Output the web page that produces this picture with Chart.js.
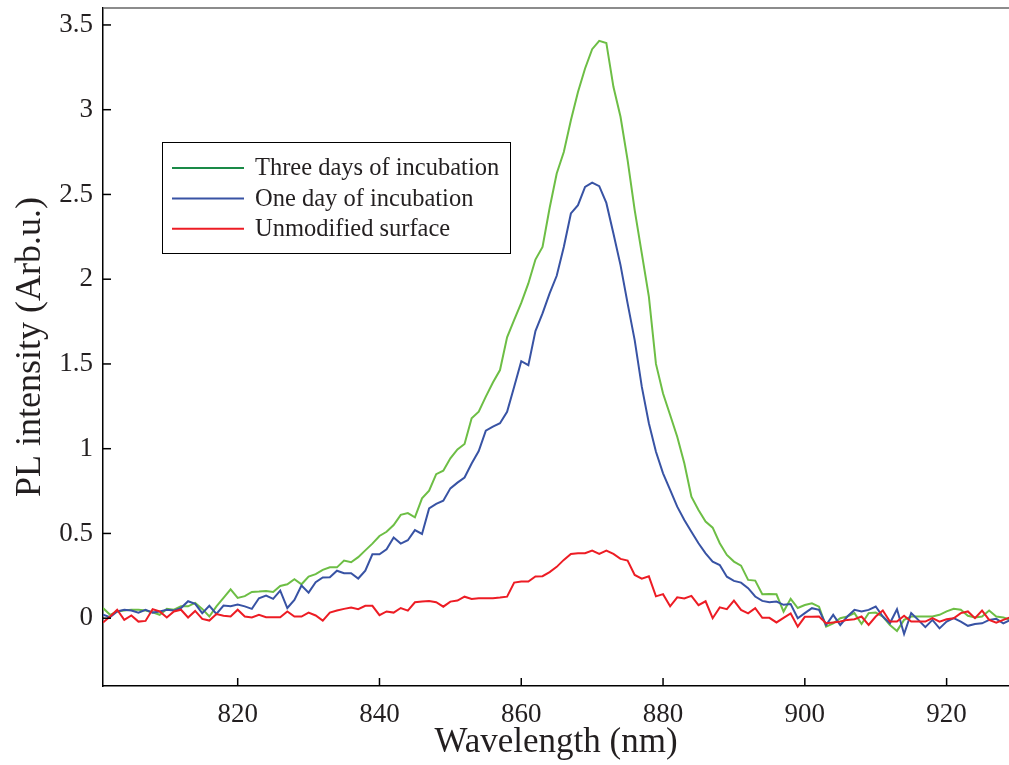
<!DOCTYPE html>
<html><head><meta charset="utf-8">
<script src="https://cdn.jsdelivr.net/npm/chart.js@4.4.0/dist/chart.umd.min.js"></script>
<style>html,body{margin:0;padding:0;background:#fff;}#wrap{width:1009px;height:765px;}</style>
</head><body><div id="wrap"><canvas id="c" width="1009" height="765"></canvas></div>
<script>
const wavelength = [801,802,803,804,805,806,807,808,809,810,811,812,813,814,815,816,817,818,819,820,
821,822,823,824,825,826,827,828,829,830,831,832,833,834,835,836,837,838,839,840,
841,842,843,844,845,846,847,848,849,850,851,852,853,854,855,856,857,858,859,860,
861,862,863,864,865,866,867,868,869,870,871,872,873,874,875,876,877,878,879,880,
881,882,883,884,885,886,887,888,889,890,891,892,893,894,895,896,897,898,899,900,
901,902,903,904,905,906,907,908,909,910,911,912,913,914,915,916,917,918,919,920,
921,922,923,924,925,926,927,928,929];

const threeDays = [0.06,0.02,0.04,0.045,0.05,0.05,0.045,0.035,0.02,0.055,0.05,0.07,0.07,0.09,0.055,0.01,0.07,0.12,0.17,0.12,
0.13,0.155,0.157,0.16,0.155,0.19,0.2,0.23,0.2,0.245,0.26,0.285,0.3,0.3,0.34,0.33,0.36,0.4,0.44,0.485,
0.51,0.55,0.61,0.62,0.595,0.707,0.752,0.85,0.87,0.943,0.996,1.028,1.18,1.218,1.307,1.39,1.464,1.657,1.76,1.86,
1.975,2.116,2.19,2.42,2.624,2.75,2.938,3.105,3.243,3.357,3.406,3.394,3.135,2.958,2.703,2.408,2.152,1.897,1.5,1.326,
1.199,1.071,0.914,0.717,0.638,0.57,0.534,0.442,0.373,0.334,0.31,0.226,0.222,0.141,0.143,0.141,0.039,0.114,0.06,0.078,
0.088,0.068,-0.05,-0.03,0.0,0.01,0.03,-0.034,0.03,0.033,0.01,-0.04,-0.075,-0.01,0.01,0.01,0.01,0.01,0.02,0.04,
0.055,0.05,0.014,0.004,0.01,0.045,0.01,0.004,-0.01];

const oneDay = [0.02,0.006,0.04,0.05,0.045,0.033,0.05,0.033,0.04,0.05,0.045,0.06,0.1,0.085,0.03,0.073,0.025,0.075,0.07,0.08,
0.07,0.055,0.118,0.134,0.114,0.163,0.06,0.108,0.193,0.151,0.212,0.24,0.242,0.28,0.265,0.265,0.234,0.28,0.377,0.377,
0.406,0.476,0.44,0.46,0.52,0.497,0.648,0.674,0.693,0.766,0.8,0.83,0.913,0.986,1.106,1.13,1.15,1.218,1.365,1.516,
1.493,1.694,1.798,1.916,2.02,2.19,2.388,2.437,2.545,2.57,2.549,2.45,2.27,2.083,1.857,1.641,1.366,1.15,0.982,0.855,
0.757,0.658,0.58,0.51,0.442,0.383,0.334,0.314,0.245,0.22,0.21,0.177,0.128,0.102,0.094,0.098,0.079,0.084,0.0,0.03,
0.059,0.049,-0.04,0.02,-0.04,0.01,0.049,0.039,0.049,0.069,0.01,-0.03,0.053,-0.093,0.03,-0.01,-0.053,-0.01,-0.06,-0.02,
0.0,-0.02,-0.045,-0.034,-0.03,-0.01,-0.004,-0.03,-0.01];

const unmodified = [-0.026,0.01,0.05,-0.01,0.016,-0.02,-0.016,0.053,0.04,0.004,0.04,0.05,0.004,0.043,-0.004,-0.014,0.024,0.014,0.01,0.05,
0.01,0.004,0.02,0.006,0.006,0.006,0.04,0.01,0.01,0.033,0.016,-0.014,0.033,0.045,0.055,0.063,0.053,0.073,0.073,0.018,
0.04,0.033,0.06,0.045,0.094,0.098,0.102,0.094,0.068,0.098,0.104,0.127,0.114,0.118,0.118,0.118,0.122,0.127,0.21,0.216,
0.216,0.246,0.248,0.272,0.303,0.344,0.379,0.383,0.383,0.399,0.379,0.399,0.379,0.35,0.34,0.255,0.233,0.247,0.129,0.142,
0.07,0.123,0.117,0.132,0.077,0.1,0.0,0.064,0.053,0.104,0.049,0.029,0.059,0.002,0.002,-0.025,0.002,0.028,-0.05,0.008,
0.008,0.01,-0.03,-0.025,-0.02,-0.01,-0.006,0.01,-0.04,0.01,0.045,-0.02,-0.02,0.014,-0.02,-0.02,-0.02,0.0,-0.02,-0.006,
0.0,0.03,0.04,0.0,0.045,-0.01,-0.026,-0.01,0.006];

const xTicks = [820,840,860,880,900,920];
const yTicks = [0,0.5,1,1.5,2,2.5,3,3.5];
const seriesLabels = ['Three days of incubation','One day of incubation','Unmodified surface'];
const lineColors = ['#6dbe45','#3853a4','#ed1c24'];
const legendColors = ['#1a8a47','#3853a4','#ed1c24'];

const SERIF = '"Liberation Serif", "Times New Roman", serif';
const TEXT = '#231f20';

const seriesValues = [threeDays, oneDay, unmodified];
const datasets = seriesValues.map((vals, i) => ({
  label: seriesLabels[i],
  data: wavelength.map((w, k) => ({x: w, y: vals[k]})),
  borderColor: lineColors[i],
  backgroundColor: lineColors[i],
  borderWidth: 2,
  pointRadius: 0,
  tension: 0,
  fill: false,
  order: 3 - i
}));

const frame = {
  id: 'frame',
  afterDraw(chart) {
    const {ctx, chartArea: a, scales: {x, y}} = chart;
    ctx.save();
    ctx.strokeStyle = '#666';
    ctx.lineWidth = 1.5;
    ctx.beginPath(); ctx.moveTo(a.left, a.top); ctx.lineTo(a.right, a.top); ctx.stroke();
    ctx.strokeStyle = '#000';
    ctx.lineWidth = 1.5;
    xTicks.forEach(v => {
      const px = x.getPixelForValue(v);
      ctx.beginPath(); ctx.moveTo(px, a.bottom); ctx.lineTo(px, a.bottom - 8); ctx.stroke();
    });
    yTicks.forEach(v => {
      const py = y.getPixelForValue(v);
      ctx.beginPath(); ctx.moveTo(a.left, py); ctx.lineTo(a.left + 8, py); ctx.stroke();
    });
    // legend
    const bx = a.left + 59, by = a.top + 134, bw = 348, bh = 111;
    ctx.fillStyle = '#fff';
    ctx.fillRect(bx, by, bw, bh);
    ctx.strokeStyle = '#000';
    ctx.lineWidth = 1;
    ctx.strokeRect(bx + 0.5, by + 0.5, bw, bh);
    ctx.font = '24.5px ' + SERIF;
    ctx.textBaseline = 'middle';
    ctx.textAlign = 'left';
    chart.data.datasets.forEach((ds, i) => {
      const ry = by + 26 + i * 30.4;
      ctx.strokeStyle = legendColors[i];
      ctx.lineWidth = 2;
      ctx.beginPath(); ctx.moveTo(bx + 10, ry); ctx.lineTo(bx + 82, ry); ctx.stroke();
      ctx.fillStyle = TEXT;
      ctx.fillText(ds.label, bx + 93, ry + 1);
    });
    ctx.restore();
  }
};

new Chart(document.getElementById('c'), {
  type: 'line',
  data: {datasets},
  options: {
    responsive: false,
    animation: false,
    devicePixelRatio: 1,
    layout: {padding: {left: 0, right: 0, top: 8, bottom: 0}},
    plugins: {legend: {display: false}, tooltip: {enabled: false}},
    scales: {
      x: {
        type: 'linear',
        min: 801,
        max: 928.8,
        afterBuildTicks: s => { s.ticks = xTicks.map(v => ({value: v})); },
        afterFit: s => { s.height = 79; s.paddingLeft = 0; s.paddingRight = 0; },
        grid: {display: false, drawTicks: false},
        border: {display: true, color: '#000', width: 1.5},
        ticks: {padding: 13, color: TEXT, font: {family: SERIF, size: 27}, maxRotation: 0, autoSkip: false},
        title: {display: true, text: 'Wavelength (nm)', color: TEXT, font: {family: SERIF, size: 35}, padding: {top: 0, bottom: 1}}
      },
      y: {
        type: 'linear',
        min: -0.4,
        max: 3.6,
        afterBuildTicks: s => { s.ticks = yTicks.map(v => ({value: v})); },
        afterFit: s => { s.width = 103; s.paddingTop = 0; s.paddingBottom = 0; },
        grid: {display: false, drawTicks: false},
        border: {display: true, color: '#000', width: 1.5},
        ticks: {padding: 10, color: TEXT, font: {family: SERIF, size: 27}, callback: v => String(v)},
        title: {display: true, text: 'PL intensity (Arb.u.)', color: TEXT, font: {family: SERIF, size: 36}, padding: {top: 9, bottom: 0}}
      }
    }
  },
  plugins: [frame]
});
</script>
</body></html>
